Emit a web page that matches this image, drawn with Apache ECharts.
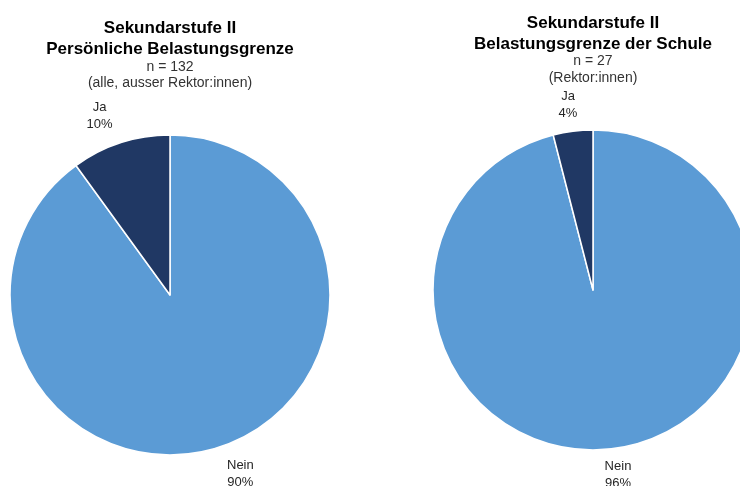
<!DOCTYPE html>
<html>
<head>
<meta charset="utf-8">
<script src="https://cdn.jsdelivr.net/npm/echarts@6/dist/echarts.min.js"></script>
<style>
  html, body { margin: 0; padding: 0; background: #fff; }
  #main { width: 740px; height: 486px; }
</style>
</head>
<body>
<div id="main"></div>
<script>
// Daten
var categories = ['Nein', 'Ja'];
var persoenlich = [90, 10];   // n = 132
var schule = [96, 4];         // n = 27
var colors = ['#5b9bd5', '#203864'];

// Lage der beiden Kreise und ihrer Etiketten
var pies = [
  { values: persoenlich, cx: 170, cy: 295, dist: 192, turn: 3.5 },
  { values: schule, cx: 593, cy: 290, dist: 186.5, turn: 0.5 }
];

function toData(values) {
  var out = [];
  for (var i = 0; i < values.length; i++) {
    out.push({ name: categories[i], value: values[i], itemStyle: { color: colors[i] } });
  }
  return out;
}

// Etikett in der Mitte des Segments, ausserhalb des Kreises
function labelPos(p, idx) {
  var total = 0, before = 0;
  for (var i = 0; i < p.values.length; i++) {
    total += p.values[i];
    if (i < idx) before += p.values[i];
  }
  var mid = 90 - (before + p.values[idx] / 2) / total * 360 + p.turn;
  var rad = mid * Math.PI / 180;
  return { x: p.cx + p.dist * Math.cos(rad), y: p.cy - p.dist * Math.sin(rad) };
}

var font = '"Liberation Sans", Arial, sans-serif';
var titleStyle = { fontFamily: font, fontSize: 17, fontWeight: 'bold', color: '#000', lineHeight: 21.5 };
var subStyle = { fontFamily: font, fontSize: 14, color: '#333', lineHeight: 16.5 };

var myChart = echarts.init(document.getElementById('main'));
var option = {
  backgroundColor: '#fff',
  animation: false,
  title: [{
    text: 'Sekundarstufe II\nPersönliche Belastungsgrenze',
    subtext: 'n = 132\n(alle, ausser Rektor:innen)',
    left: 170, top: 17.5, padding: 0, itemGap: -2,
    textAlign: 'center',
    textStyle: titleStyle,
    subtextStyle: subStyle
  }, {
    text: 'Sekundarstufe II\nBelastungsgrenze der Schule',
    subtext: 'n = 27\n(Rektor:innen)',
    left: 593, top: 12.5, padding: 0, itemGap: -2.5,
    textAlign: 'center',
    textStyle: titleStyle,
    subtextStyle: subStyle
  }],
  series: pies.map(function (p, s) {
    return {
      type: 'pie',
      center: [p.cx, p.cy],
      radius: 160,
      startAngle: 90,
      clockwise: true,
      data: toData(p.values),
      itemStyle: { borderColor: '#fff', borderWidth: 1.5 },
      label: {
        show: true,
        position: 'outside',
        formatter: '{b}\n{d}%',
        fontFamily: font,
        fontSize: 13,
        lineHeight: 17,
        color: '#262626'
      },
      labelLine: { show: false },
      labelLayout: function (params) {
        var pos = labelPos(pies[s], params.dataIndex);
        return { x: pos.x, y: pos.y, align: 'center', verticalAlign: 'middle' };
      },
      emphasis: { disabled: true }
    };
  })
};
myChart.setOption(option);
</script>
</body>
</html>
